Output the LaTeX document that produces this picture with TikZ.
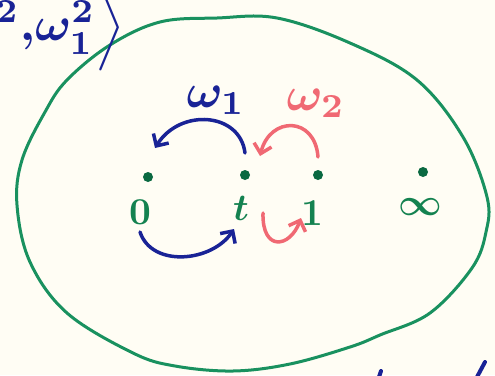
\documentclass[tikz,border=0pt]{standalone}
\usepackage{graphicx}
\usetikzlibrary{arrows.meta}
\definecolor{bg}{RGB}{255,253,244}
\definecolor{ovalgreen}{RGB}{25,145,95}
\definecolor{dotgreen}{RGB}{10,105,65}
\definecolor{labgreen}{RGB}{20,130,80}
\definecolor{penblue}{RGB}{25,35,150}
\definecolor{penred}{RGB}{240,105,115}
\newcommand{\myBigLab}[1]{\scalebox{3.8}{\boldmath#1}}
\newcommand{\myBigW}[1]{\scalebox{4.8}{\boldmath#1}}
\begin{document}
\begin{tikzpicture}[x=1pt,y=-1pt,
  dot/.style={circle,fill=dotgreen,inner sep=0pt,minimum size=10pt},
  lab/.style={text=labgreen,inner sep=0pt},
  wlab/.style={inner sep=0pt},
  pen/.style={line width=3.5pt,line cap=round,-{Straight Barb[length=9pt,width=18pt]}},
  oval/.style={draw=ovalgreen,line width=3pt}]
\useasboundingbox (0,0) rectangle (495,375);
\clip (0,0) rectangle (495,375);
\fill[bg] (0,0) rectangle (495,375);
% big closed curve
\draw[oval] plot[smooth cycle,tension=0.6] coordinates {
  (67,80) (110,45) (160,22) (217,18) (277,18) (350,43) (417,80) (463,137)
  (487,197) (486,232) (472,268) (430,313) (380,335) (350,347) (290,364)
  (233,371) (175,366) (133,353) (67,313) (30,262) (17,205) (22,160) (45,112)};
% top-left partial text
\node[wlab,text=penblue,anchor=base east] (tl) at (125,40) {\myBigW{$\omega^2,\!\omega_1^2\Big\rangle$}};
% dots
\node[dot] (p0) at (148,177) {};
\node[dot] (pt) at (245,175) {};
\node[dot] (p1) at (318,175) {};
\node[dot] (pinf) at (423,172) {};
% labels
\node[lab] (l0) at (140,212) {\myBigLab{$0$}};
\node[lab] (lt) at (241,208) {\myBigLab{$t$}};
\node[lab] (l1) at (312,213) {\myBigLab{$1$}};
\node[lab] (linf) at (420,207) {\myBigLab{$\infty$}};
\node[wlab,text=penblue] (w1) at (216,100) {\myBigW{$\omega_1$}};
\node[wlab,text=penred] (w2) at (316,103) {\myBigW{$\omega_2$}};
% arrow end points
\coordinate (bta) at (245,153);
\coordinate (btb) at (155,148);
\coordinate (bba) at (140,232);
\coordinate (bbb) at (234,229);
\coordinate (rta) at (318,157);
\coordinate (rtb) at (260,156);
\coordinate (rba) at (263,213);
\coordinate (rbb) at (301,218);
\draw[pen,penblue] (bta) .. controls (240,112) and (180,108) .. (btb);
\draw[pen,penblue] (bba) .. controls (152,268) and (212,262) .. (bbb);
\draw[pen,penred] (rta) .. controls (315,116) and (270,116) .. (rtb);
\draw[pen,penred] (rba) .. controls (262,252) and (290,248) .. (rbb);
% marks at the bottom edge
\coordinate (m1a) at (381,371);
\coordinate (m1b) at (379,377);
\coordinate (m2a) at (485,362);
\coordinate (m2b) at (477,377);
\draw[penblue,line width=4pt,line cap=round] (m1a) -- (m1b);
\draw[penblue,line width=4pt,line cap=round] (m2a) -- (m2b);
\end{tikzpicture}
\end{document}
